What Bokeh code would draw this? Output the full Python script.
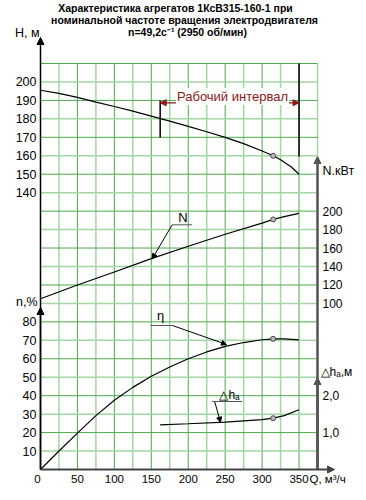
from bokeh.plotting import figure
from bokeh.models import Range1d, Label, Arrow, NormalHead
from bokeh.core.properties import value
from bokeh.embed import file_html
from bokeh.resources import INLINE

# ---------------- data ----------------
q_ticks = [0, 50, 100, 150, 200, 250, 300, 350]
h_ticks = [140, 150, 160, 170, 180, 190, 200]
eta_ticks = [10, 20, 30, 40, 50, 60, 70, 80]
n_ticks = [100, 120, 140, 160, 180, 200]
dh_ticks = [1.0, 2.0]

q_h = [0, 25, 50, 75, 100, 125, 150, 175, 200, 225, 250, 275, 300, 315, 325, 340, 350]
head = [195.5, 193.8, 191.6, 189.1, 186.7, 184.2, 181.5, 178.8, 175.9, 173.0, 170.0, 166.6, 162.6, 160.0, 157.8, 153.8, 150.0]

q_n = [0, 50, 100, 150, 200, 250, 300, 315, 330, 350]
power = [105, 120, 134, 148.5, 162, 175, 187, 191, 194, 197.5]

q_eta = [0, 25, 50, 75, 100, 125, 150, 175, 200, 225, 250, 275, 300, 315, 330, 350]
eta = [0, 10, 19.7, 29.2, 37.5, 44.5, 50.5, 55.5, 60, 63.7, 66.7, 68.8, 70.3, 70.8, 70.8, 70.2]

q_dh = [162, 200, 250, 300, 315, 330, 350]
dh = [1.21, 1.24, 1.285, 1.35, 1.39, 1.46, 1.62]

q_mark = 315
h_mark, n_mark, eta_mark, dh_mark = 160, 191, 70.8, 1.39
work_q = [162, 350]

title_lines = ["Характеристика агрегатов 1КсВ315-160-1 при",
               "номинальной частоте вращения электродвигателя",
               "n=49,2с⁻¹ (2950 об/мин)"]

# ---------------- layout (grid units) ----------------
# vertical: k grid units (one cell); H = H0 + HS*k, N = N0 + NS*k, eta = ES*k, dh = DS*k
Q_MAX, K_MAX = 375, 22
H0, HS = -10, 10
N0, NS = -80, 20
ES = 10
DS = 0.5

W, HT = 358, 492
FX0, FX1, FY0, FY1 = 40, 317, 63, 469        # grid box in page pixels
CX = (FX1 - FX0) / Q_MAX                      # px per m3/h
CY = (FY1 - FY0) / K_MAX                      # px per grid unit

def qx(px):   # page x pixel -> Q
    return (px - FX0) / CX

def ky(py):   # page y pixel -> k
    return (FY1 - py) / CY

FONT = "Liberation Sans"
DARKRED = "#8b1a1a"

p = figure(width=W, height=HT, x_range=Range1d(qx(0), qx(W)), y_range=Range1d(ky(HT), ky(0)),
           output_backend="svg", toolbar_location=None, x_axis_location=None, y_axis_location=None,
           min_border=0)
p.extra_y_ranges = {
    "H": Range1d(H0 + HS * ky(HT), H0 + HS * ky(0)),
    "N": Range1d(N0 + NS * ky(HT), N0 + NS * ky(0)),
    "eta": Range1d(ES * ky(HT), ES * ky(0)),
    "dh": Range1d(DS * ky(HT), DS * ky(0)),
}
p.outline_line_color = None
p.grid.visible = False
p.background_fill_color = "white"
p.border_fill_color = "white"

# ---------------- grid ----------------
vx = list(range(0, Q_MAX + 1, 25))
hy = list(range(0, K_MAX + 1))
light = "#a3d6a3"
dark = "#4fa84f"
vodd = [x for i, x in enumerate(vx) if i % 2]
vevn = [x for i, x in enumerate(vx) if i % 2 == 0]
p.segment(x0=vodd, y0=0, x1=vodd, y1=K_MAX, line_color=light, line_width=1.5)
p.segment(x0=vevn, y0=0, x1=vevn, y1=K_MAX, line_color=dark, line_width=1)
hodd = [y for y in hy if y % 2]
hevn = [y for y in hy if y % 2 == 0]
p.segment(x0=0, y0=hodd, x1=Q_MAX, y1=hodd, line_color=light, line_width=1.5)
p.segment(x0=0, y0=hevn, x1=Q_MAX, y1=hevn, line_color=dark, line_width=1)

# ---------------- tick labels ----------------
def texts(xs, ys, labels, align, size, color="black", style="normal", y_range_name="default"):
    p.text(x=xs, y=ys, text=labels, text_align=align, text_baseline="middle",
           text_font=value(FONT), text_font_size=value(size), text_color=color,
           text_font_style=style, y_range_name=y_range_name)

# bottom (Q)
texts([q if q else qx(FX0 - 3) for q in q_ticks], [ky(FY1 + 9)] * len(q_ticks),
      [str(q) for q in q_ticks], "center", "11.5px")
# left: eta and H
texts([qx(FX0 - 4)] * len(eta_ticks), eta_ticks, [str(e) for e in eta_ticks], "right", "12.5px",
      y_range_name="eta")
texts([qx(FX0 - 4)] * len(h_ticks), h_ticks, [str(h) for h in h_ticks], "right", "12.5px",
      y_range_name="H")
# right: N and dh
texts([qx(FX1 + 5)] * len(n_ticks), n_ticks, [str(n) for n in n_ticks], "left", "12px",
      y_range_name="N")
texts([qx(FX1 + 5)] * len(dh_ticks), dh_ticks, [f"{d:.1f}".replace(".", ",") for d in dh_ticks],
      "left", "12px", y_range_name="dh")

# ---------------- curves ----------------
p.line(q_h, head, y_range_name="H", line_color="black", line_width=1.2)
p.line(q_n, power, y_range_name="N", line_color="black", line_width=1.2)
p.line(q_eta, eta, y_range_name="eta", line_color="black", line_width=1.2)
p.line(q_dh, dh, y_range_name="dh", line_color="black", line_width=1.2)

for val, rn in [(h_mark, "H"), (n_mark, "N"), (eta_mark, "eta"), (dh_mark, "dh")]:
    p.scatter([q_mark], [val], y_range_name=rn, marker="circle", size=5,
              fill_color="#bbbbbb", line_color="#444444", line_width=1)

# ---------------- working interval ----------------
p.segment(x0=work_q, y0=[ky(137), ky(156)], x1=work_q, y1=[ky(100), K_MAX],
          line_color="black", line_width=1.5)
p.add_layout(Arrow(start=NormalHead(size=6, fill_color=DARKRED, line_color=DARKRED),
                   end=NormalHead(size=6, fill_color=DARKRED, line_color=DARKRED),
                   x_start=work_q[0], y_start=ky(102.3), x_end=work_q[1], y_end=ky(102.3),
                   line_color=DARKRED, line_width=1.2))
p.add_layout(Label(x=qx(232), y=ky(96), text="Рабочий интервал", text_align="center",
                   text_baseline="middle", text_font=FONT, text_font_size="13px", text_color=DARKRED,
                   background_fill_color="white", padding=1))

# ---------------- curve labels with leaders ----------------
def leader(tx, ty, txt, ux0, ux1, uy, sx, sy, ex, ey, size):
    p.add_layout(Label(x=qx(tx), y=ky(ty), text=txt, text_align="center", text_baseline="middle",
                       text_font=FONT, text_font_size=size, text_color="black"))
    p.segment(x0=[qx(ux0)], y0=[ky(uy)], x1=[qx(ux1)], y1=[ky(uy)], line_color="#555555", line_width=1)
    p.add_layout(Arrow(end=NormalHead(size=5, fill_color="black", line_color="black"),
                       x_start=qx(sx), y_start=ky(sy), x_end=qx(ex), y_end=ky(ey),
                       line_color="black", line_width=1))

leader(182.5, 217, "N", 171.7, 191.7, 224.3, 171.7, 224.3, 151.7, 258.3, "13px")
leader(160, 315, "η", 150, 172, 325, 172, 325, 226, 344, "13px")
leader(229, 394, "△hₐ", 211.7, 241.7, 401, 214.3, 401.5, 220, 421.7, "12px")

# ---------------- axis lines with arrows ----------------
def axis_arrow(x0, y0, x1, y1, color, width):
    p.add_layout(Arrow(end=NormalHead(size=7, fill_color=color, line_color=color),
                       x_start=x0, y_start=y0, x_end=x1, y_end=y1, line_color=color, line_width=width))

axis_arrow(0, 0, 0, ky(37), "black", 1.5)
axis_arrow(0, 0, 0, ky(307), "black", 1.5)
axis_arrow(Q_MAX, 0, Q_MAX, ky(156), "#555555", 2.5)
axis_arrow(Q_MAX, 0, Q_MAX, ky(377), "#555555", 2.5)
axis_arrow(0, 0, qx(334), 0, "#444444", 2)

# ---------------- axis titles ----------------
def lab(px, py, txt, align, size="12px", bold=False):
    p.add_layout(Label(x=qx(px), y=ky(py), text=txt, text_align=align, text_baseline="middle",
                       text_font=FONT, text_font_size=size, text_color="black",
                       text_font_style="bold" if bold else "normal"))

lab(39, 32.5, "Н, м", "right", "12.5px")
lab(37, 301.5, "n,%", "right", "12.5px")
lab(322, 170.5, "N.кВт", "left", "12.5px")
lab(320, 371, "△hₐ,м", "left", "12px")
lab(309, 478, "Q, м³/ч", "left", "11.5px")

for t, cx, cy in zip(title_lines, [175, 184, 187], [7.5, 19.5, 31]):
    lab(cx, cy, t, "center", "10.5px", True)

open("out.html", "w").write(file_html(p, INLINE))
